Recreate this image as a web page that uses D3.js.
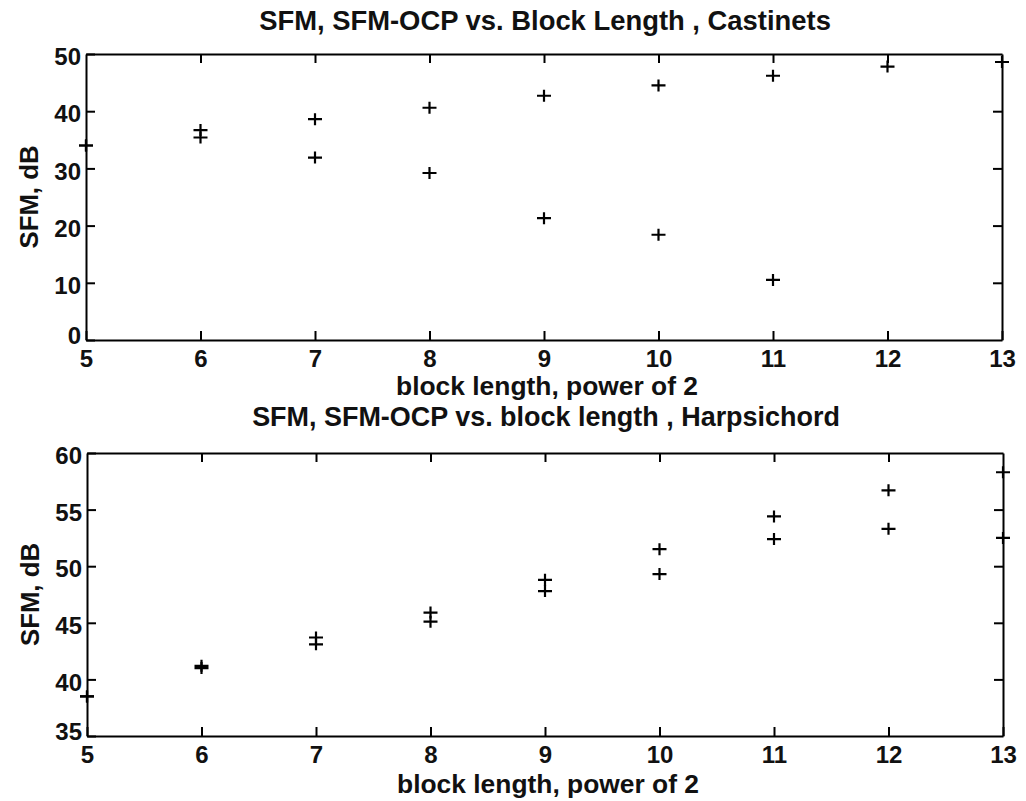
<!DOCTYPE html>
<html>
<head>
<meta charset="utf-8">
<script src="https://cdn.jsdelivr.net/npm/d3@7"></script>
<style>
  html, body { margin: 0; padding: 0; background: #fff; }
  svg { display: block; }
  text { font-family: "Liberation Sans", Arial, Helvetica, sans-serif; font-weight: bold; fill: #111; }
</style>
</head>
<body>
<svg id="chart" width="1026" height="801"></svg>
<script>
// ---- data ----
const blockPowers = [5, 6, 7, 8, 9, 10, 11, 12, 13];
const castSFM     = [34.0, 36.7, 38.6, 40.6, 42.7, 44.5, 46.2, 47.8, 48.6];
const castSFMOCP  = [34.0, 35.4, 31.9, 29.2, 21.3, 18.4, 10.5, null, null];
const harpSFM     = [38.5, 41.2, 43.7, 45.9, 48.8, 51.5, 54.4, 56.7, 58.3];
const harpSFMOCP  = [38.5, 41.0, 43.1, 45.1, 47.8, 49.3, 52.4, 53.3, 52.5];
const xTicks      = [5, 6, 7, 8, 9, 10, 11, 12, 13];
const castYTicks  = [0, 10, 20, 30, 40, 50];
const harpYTicks  = [35, 40, 45, 50, 55, 60];
const titles      = ["SFM, SFM-OCP vs. Block Length , Castinets",
                     "SFM, SFM-OCP vs. block length , Harpsichord"];
const xLabel = "block length, power of 2";
const yLabel = "SFM, dB";

const svg = d3.select("#chart");

function fitText(sel, targetW) {
  const node = sel.node();
  const w = node.getComputedTextLength();
  const fs = parseFloat(sel.attr("font-size"));
  sel.attr("font-size", (fs * targetW / w).toFixed(2));
}

function panel(cfg) {
  const x = d3.scaleLinear().domain([5, 13]).range([cfg.left, cfg.right]);
  const y = d3.scaleLinear().domain(cfg.yDomain).range([cfg.bottom, cfg.top]);
  const g = svg.append("g");
  const tk = 9;

  const styleAxis = sel => {
    sel.attr("font-size", 24).attr("font-family", null);
    sel.selectAll("path.domain").attr("stroke", "#000").attr("stroke-width", 2);
    sel.selectAll(".tick line").attr("stroke", "#000").attr("stroke-width", 2);
    sel.selectAll(".tick text").attr("fill", "#111");
  };

  // bottom axis with labels
  g.append("g").attr("transform", `translate(0,${cfg.bottom})`)
    .call(d3.axisBottom(x).tickValues(xTicks).tickFormat(d3.format("d"))
      .tickSizeInner(-tk).tickSizeOuter(0).tickPadding(10))
    .call(styleAxis);
  // top axis (ticks only)
  g.append("g").attr("transform", `translate(0,${cfg.top})`)
    .call(d3.axisTop(x).tickValues(xTicks.slice(1, -1)).tickFormat("")
      .tickSizeInner(-tk).tickSizeOuter(0))
    .call(styleAxis);
  // left axis with labels
  const la = g.append("g").attr("transform", `translate(${cfg.left},0)`)
    .call(d3.axisLeft(y).tickValues(cfg.yTicks).tickFormat(d3.format("d"))
      .tickSizeInner(-tk).tickSizeOuter(0).tickPadding(5))
    .call(styleAxis);
  la.selectAll(".tick text").attr("transform", (d, i) => i === 0 ? "translate(0,-4)" : "translate(0,3)");
  // right axis (ticks only)
  g.append("g").attr("transform", `translate(${cfg.right},0)`)
    .call(d3.axisRight(y).tickValues(cfg.yTicks.slice(1, -1)).tickFormat("")
      .tickSizeInner(-tk).tickSizeOuter(0))
    .call(styleAxis);

  // markers ("+")
  const drawPlus = (vals) => {
    const pts = blockPowers.map((b, i) => ({b, v: vals[i]})).filter(d => d.v != null);
    const s = 7;
    const mg = g.append("g").attr("stroke", "#000").attr("stroke-width", 2.2);
    mg.selectAll("path").data(pts).join("path")
      .attr("d", d => {
        const cx = x(d.b), cy = y(d.v);
        return `M${cx - s},${cy}H${cx + s}M${cx},${cy - s + 1}V${cy + s - 1}`;
      });
  };
  drawPlus(cfg.s1);
  drawPlus(cfg.s2);

  const cx = (cfg.left + cfg.right) / 2;
  // title
  const t = g.append("text").attr("x", cx + 1).attr("y", cfg.titleY)
    .attr("text-anchor", "middle").attr("font-size", 20).text(cfg.title);
  fitText(t, cfg.titleW);
  // x label
  const xl = g.append("text").attr("x", cx + 3).attr("y", cfg.xLabelY)
    .attr("text-anchor", "middle").attr("font-size", 20).text(xLabel);
  fitText(xl, 302);
  // y label
  const yl = g.append("text")
    .attr("transform", `translate(${cfg.yLabelX},${(cfg.top + cfg.bottom) / 2}) rotate(-90)`)
    .attr("text-anchor", "middle").attr("font-size", 20).text(yLabel);
  fitText(yl, 103);
}

panel({
  left: 86, right: 1002, top: 54, bottom: 340,
  yDomain: [0, 50], yTicks: castYTicks,
  s1: castSFM, s2: castSFMOCP,
  title: titles[0], titleY: 30, titleW: 572,
  xLabelY: 395, yLabelX: 38
});
panel({
  left: 87, right: 1003, top: 453, bottom: 736,
  yDomain: [35, 60], yTicks: harpYTicks,
  s1: harpSFM, s2: harpSFMOCP,
  title: titles[1], titleY: 426, titleW: 588,
  xLabelY: 793, yLabelX: 39
});
</script>
</body>
</html>
